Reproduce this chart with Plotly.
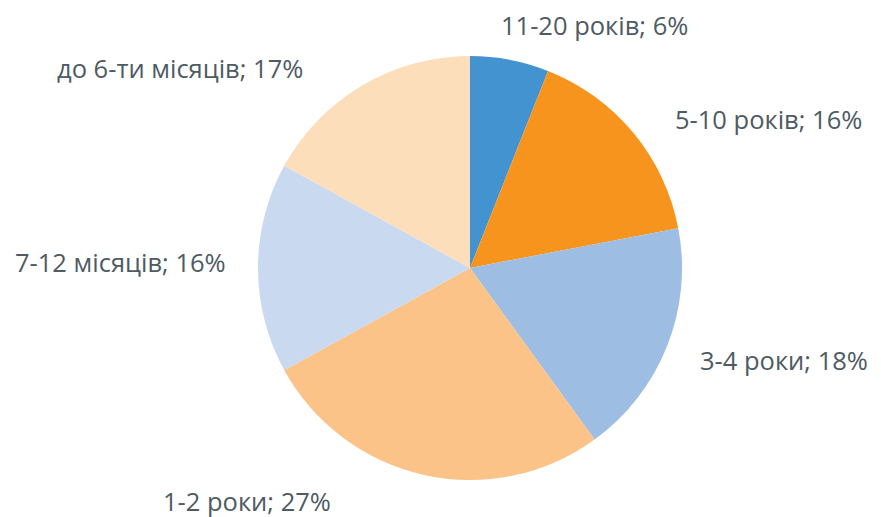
import math
import plotly.graph_objects as go

categories = ["11-20 років", "5-10 років", "3-4 роки", "1-2 роки", "7-12 місяців", "до 6-ти місяців"]
values = [6, 16, 18, 27, 16, 17]
colors = ["#4393D0", "#F7941E", "#9DBDE3", "#FBC387", "#C9D9EF", "#FDDEBB"]

# label placement tweaks (pixels), relative to the point just outside each slice
label_nudge = [(-16, -8), (19, 3), (6, 4), (-85, 0), (-3, -6), (-43, 6)]

W, H = 881, 517
OFF = 8  # page body margin
cx, cy, R = 470 - OFF, 268 - OFF, 212  # pie centre and radius in figure pixels
pad = 27
text_color = "#4E5B63"
font_family = "Open Sans, DejaVu Sans, sans-serif"

fig = go.Figure(go.Pie(
    labels=categories,
    values=values,
    marker=dict(colors=colors, line=dict(width=0)),
    sort=False,
    direction="clockwise",
    rotation=0,
    textinfo="none",
    hoverinfo="label+percent",
    showlegend=False,
    domain=dict(x=[(cx - R) / W, (cx + R) / W], y=[1 - (cy + R) / H, 1 - (cy - R) / H]),
))

total = sum(values)
cum = 0
annotations = []
for lab, v, (nx, ny) in zip(categories, values, label_nudge):
    mid = (cum + v / 2) / total * 2 * math.pi
    cum += v
    dx, dy = math.sin(mid), -math.cos(mid)
    px = cx + dx * (R + pad) + nx
    py = cy + dy * (R + pad) + ny
    if dx > 0.1:
        xa = "left"
    elif dx < -0.1:
        xa = "right"
    else:
        xa = "center"
    annotations.append(dict(
        x=px / W, y=1 - py / H, xref="paper", yref="paper",
        text=f"{lab}; {round(v / total * 100)}%",
        showarrow=False, xanchor=xa, yanchor="middle",
        font=dict(size=25.5, color=text_color, family=font_family),
    ))

fig.update_layout(
    width=W, height=H,
    margin=dict(l=0, r=0, t=0, b=0),
    paper_bgcolor="white",
    plot_bgcolor="white",
    annotations=annotations,
)

fig.write_html("out.html")
